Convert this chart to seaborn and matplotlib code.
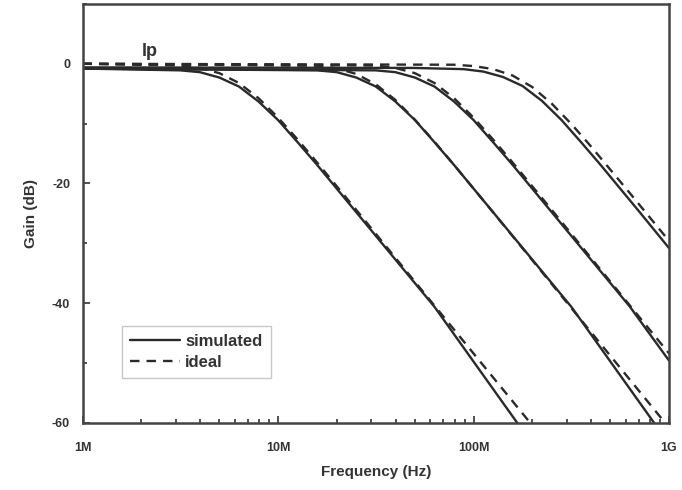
import matplotlib
matplotlib.use("Agg")
import matplotlib.pyplot as plt
import matplotlib.ticker as mticker
from matplotlib.lines import Line2D
import numpy as np
import pandas as pd
import seaborn as sns

# values: log10(frequency / Hz) and gain in dB
sim1_logf = [6.0, 6.5, 6.6, 6.7, 6.8, 6.9, 7.0, 7.1, 7.2, 7.4, 7.8, 8.3]
sim1_gain = [-0.8, -1.1, -1.4, -2.3, -3.8, -6.3, -9.4, -13.1, -16.9, -24.8, -40.6, -63.5]
sim2_logf = [6.0, 7.2, 7.3, 7.4, 7.5, 7.6, 7.7, 7.8, 7.9, 8.1, 8.5, 9.0]
sim2_gain = [-0.8, -1.1, -1.4, -2.3, -3.8, -6.3, -9.4, -13.1, -16.9, -24.8, -40.6, -63.5]
sim3_logf = [6.0, 7.5, 7.6, 7.7, 7.8, 7.9, 8.0, 8.1, 8.2, 8.4, 8.8, 9.0]
sim3_gain = [-0.8, -1.1, -1.4, -2.3, -3.8, -6.3, -9.4, -13.1, -16.9, -24.8, -40.6, -49.6]
sim4_logf = [6.0, 7.7, 7.95, 8.05, 8.15, 8.25, 8.35, 8.45, 8.55, 8.65, 8.85, 9.0]
sim4_gain = [-0.6, -0.7, -0.9, -1.3, -2.2, -3.7, -6.2, -9.4, -13.1, -16.9, -24.8, -30.8]

ide1_logf = [6.0, 6.5, 6.6, 6.7, 6.8, 6.9, 7.0, 7.1, 7.2, 7.4, 8.4]
ide1_gain = [0.0, -0.29, -0.70, -1.57, -3.21, -5.74, -8.99, -12.65, -16.50, -24.41, -64.4]
ide2_logf = [6.0, 7.2, 7.3, 7.4, 7.5, 7.6, 7.7, 7.8, 7.9, 8.1, 9.0]
ide2_gain = [0.0, -0.32, -0.76, -1.70, -3.43, -6.04, -9.34, -13.02, -16.89, -24.81, -60.8]
ide3_logf = [6.0, 7.5, 7.6, 7.7, 7.8, 7.9, 8.0, 8.1, 8.2, 8.4, 9.0]
ide3_gain = [0.0, -0.29, -0.70, -1.57, -3.21, -5.74, -8.99, -12.65, -16.50, -24.41, -48.4]
ide4_logf = [6.0, 7.9, 8.0, 8.1, 8.2, 8.3, 8.4, 8.5, 8.6, 8.8, 9.0]
ide4_gain = [0.0, -0.16, -0.38, -0.89, -1.97, -3.88, -6.66, -10.05, -13.78, -21.63, -29.6]

tick_freqs = [1e6, 1e7, 1e8, 1e9]
tick_labels = ["1M", "10M", "100M", "1G"]

sim = [(sim1_logf, sim1_gain), (sim2_logf, sim2_gain), (sim3_logf, sim3_gain), (sim4_logf, sim4_gain)]
ide = [(ide1_logf, ide1_gain), (ide2_logf, ide2_gain), (ide3_logf, ide3_gain), (ide4_logf, ide4_gain)]

rows = []
for i, (lf, g) in enumerate(sim):
    for a, b in zip(lf, g):
        rows.append({"freq": 10 ** a, "gain": b, "curve": i, "kind": "simulated"})
for i, (lf, g) in enumerate(ide):
    for a, b in zip(lf, g):
        rows.append({"freq": 10 ** a, "gain": b, "curve": i, "kind": "ideal"})
df = pd.DataFrame(rows)

sns.set_style("ticks")
plt.rcParams["font.family"] = ["Liberation Sans", "DejaVu Sans"]
plt.rcParams["font.weight"] = "bold"
plt.rcParams["axes.unicode_minus"] = False

fig = plt.figure(figsize=(6.82, 4.90), dpi=100)
ax = fig.add_axes([0.121, 0.137, 0.860, 0.855])

line_col = "#2a2a2a"
dash = (0, (4, 3))
for (c, k), sub in df.groupby(["curve", "kind"]):
    sns.lineplot(data=sub, x="freq", y="gain", ax=ax, color=line_col,
                 linewidth=1.7, linestyle="-" if k == "simulated" else dash,
                 estimator=None, sort=True)

ax.set_xscale("log")
ax.set_xlim(1e6, 1e9)
ax.set_ylim(-60, 10)
ax.set_xticks(tick_freqs)
ax.set_xticklabels(tick_labels)
ax.xaxis.set_minor_locator(mticker.LogLocator(base=10, subs=np.arange(2, 10)))
ax.xaxis.set_minor_formatter(mticker.NullFormatter())
ax.set_yticks([-60, -40, -20, 0])
ax.yaxis.set_minor_locator(mticker.MultipleLocator(10))

ax.tick_params(which="both", direction="in", color="#333333", labelsize=9, width=1.2)
ax.tick_params(which="major", length=5)
ax.tick_params(which="minor", length=3)
ax.tick_params(axis="x", pad=14)
ax.tick_params(axis="y", pad=9)
for lab in ax.get_xticklabels() + ax.get_yticklabels():
    lab.set_fontweight("bold")
    lab.set_color("#333333")

for s in ax.spines.values():
    s.set_linewidth(1.8)
    s.set_color("#444444")

ax.set_xlabel("Frequency (Hz)", fontsize=11, fontweight="bold", color="#333333", labelpad=8)
ax.set_ylabel("Gain (dB)", fontsize=11, fontweight="bold", color="#333333", labelpad=10)

ax.text(2.0e6, 1.3, "lp", fontsize=13, fontweight="bold", color="#333333")

handles = [Line2D([], [], color=line_col, lw=1.7, ls="-"),
           Line2D([], [], color=line_col, lw=1.7, ls=dash)]
leg = ax.legend(handles, ["simulated", "ideal"], loc="lower left",
                bbox_to_anchor=(0.067, 0.107), borderaxespad=0, fontsize=12,
                frameon=True, fancybox=False, handlelength=3.0, handletextpad=0.3,
                borderpad=0.5, labelspacing=0.35)
leg.get_frame().set_edgecolor("#bbbbbb")
leg.get_frame().set_linewidth(1.0)
for t in leg.get_texts():
    t.set_fontweight("bold")
    t.set_color("#333333")

fig.savefig("out.png", dpi=100)
